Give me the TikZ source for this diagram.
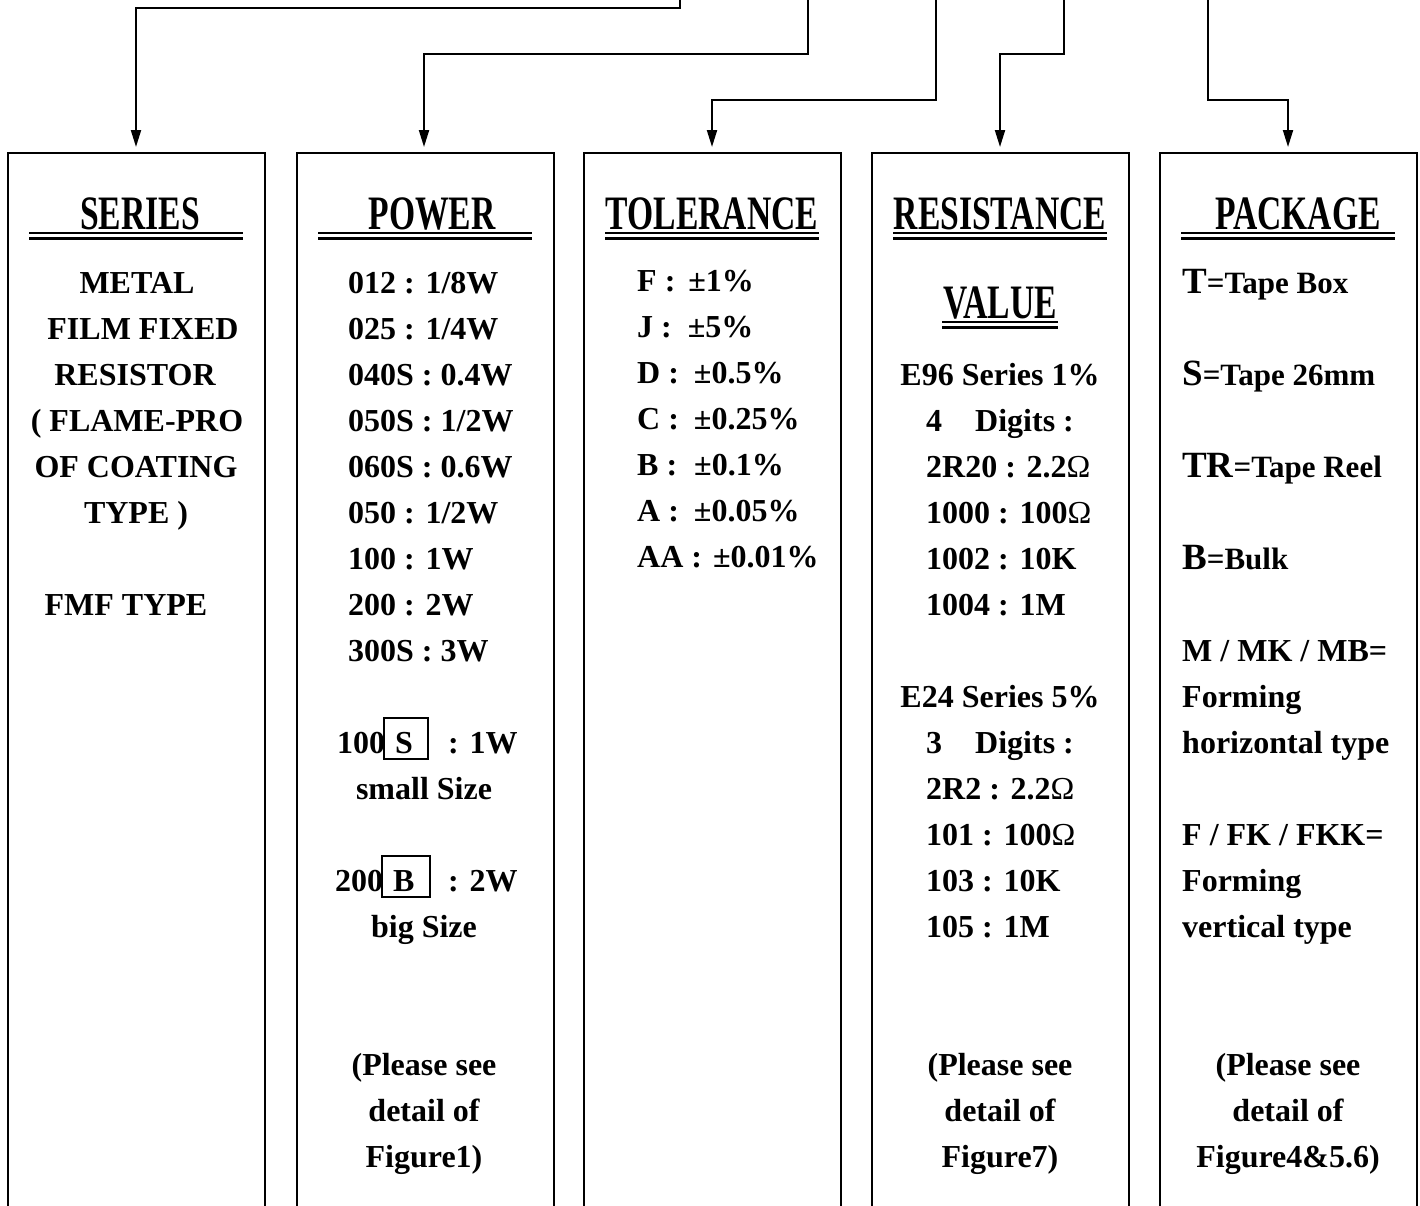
\documentclass[tikz,border=0pt]{standalone}
\usepackage{fontspec}
\setmainfont{Liberation Serif}
\usepackage{graphicx}
\usetikzlibrary{arrows.meta}
\newcommand{\hdrtext}[1]{\scalebox{0.7}[1]{\bfseries\fontsize{48}{48}\selectfont #1}}
\newcommand{\ohm}{{\mdseries Ω}}
\newcommand{\pkgbig}[1]{{\fontsize{37}{37}\selectfont #1}}
\begin{document}
\begin{tikzpicture}[x=1pt,y=-1pt,
  conn/.style={line width=2pt,-{Triangle[length=17pt,width=10pt]},shorten >=6pt},
  colbox/.style={line width=2pt},
  body/.style={font=\bfseries\fontsize{32}{32}\selectfont,inner sep=0pt},
  pkg/.style={font=\bfseries\fontsize{31}{31}\selectfont,inner sep=0pt},
  hdr/.style={inner sep=0pt,anchor=base},
  uline/.style={line width=2.8pt},
  lft/.style={body,anchor=base west},
  ctr/.style={body,anchor=base}]
\useasboundingbox (0,0) rectangle (1420,1205);
% column boxes (open at bottom)
\foreach \l in {8,297,584,872,1160}{
  \draw[colbox] (\l,1207) -- (\l,153) -- (\l+257,153) -- (\l+257,1207);
  \draw[uline] (\l+21,233) -- (\l+235,233);
  \draw[uline] (\l+21,238.5) -- (\l+235,238.5);
}
\coordinate (b1) at (136,153);
\coordinate (b2) at (424,153);
\coordinate (b3) at (712,153);
\coordinate (b4) at (1000,153);
\coordinate (b5) at (1288,153);
\coordinate (s1) at (680,-2);
\coordinate (s2) at (808,-2);
\coordinate (s3) at (936,-2);
\coordinate (s4) at (1064,-2);
\coordinate (s5) at (1208,-2);
\draw[conn] (s1) -- ++(0,10) -| (b1);
\draw[conn] (s2) -- ++(0,56) -| (b2);
\draw[conn] (s3) -- ++(0,102) -| (b3);
\draw[conn] (s4) -- ++(0,56) -| (b4);
\draw[conn] (s5) -- ++(0,102) -| (b5);
% headers
\node[hdr] (h1) at (140,229) {\hdrtext{SERIES}};
\node[hdr] (h2) at (432,229) {\hdrtext{POWER}};
\node[hdr] (h3) at (712,229) {\hdrtext{TOLERANCE}};
\node[hdr] (h4) at (1000,229) {\hdrtext{RESISTANCE}};
\node[hdr] (h5) at (1298,229) {\hdrtext{PACKAGE}};
\node[hdr] (h4b) at (1000,318) {\hdrtext{VALUE}};
\draw[uline] (942,322) -- (1058,322);
\draw[uline] (942,327.5) -- (1058,327.5);
% column 1
\node[ctr] (a0) at (137,{293+46*0}) {METAL};
\node[ctr] (a1) at (143,{293+46*1}) {FILM FIXED};
\node[ctr] (a2) at (135,{293+46*2}) {RESISTOR};
\node[ctr] (a3) at (137,{293+46*3}) {( FLAME-PRO};
\node[ctr] (a4) at (136,{293+46*4}) {OF COATING};
\node[ctr] (a5) at (136,{293+46*5}) {TYPE )};
\node[ctr] (a7) at (126,{293+46*7}) {FMF TYPE};
% column 2
\node[lft] (p0) at (348,{293+46*0}) {012 : 1/8W};
\node[lft] (p1) at (348,{293+46*1}) {025 : 1/4W};
\node[lft] (p2) at (348,{293+46*2}) {040S : 0.4W};
\node[lft] (p3) at (348,{293+46*3}) {050S : 1/2W};
\node[lft] (p4) at (348,{293+46*4}) {060S : 0.6W};
\node[lft] (p5) at (348,{293+46*5}) {050 : 1/2W};
\node[lft] (p6) at (348,{293+46*6}) {100 : 1W};
\node[lft] (p7) at (348,{293+46*7}) {200 : 2W};
\node[lft] (p8) at (348,{293+46*8}) {300S : 3W};
\node[lft] (p10a) at (337,{293+46*10}) {100};
\node[draw,line width=1.6pt,minimum width=44pt,minimum height=41pt,inner sep=0pt] (sbox) at (406,738.5) {};
\node[lft] (p10b) at (395,{293+46*10}) {S};
\node[lft] (p10c) at (448,{293+46*10}) {: 1W};
\node[ctr] (p11) at (424,{293+46*11}) {small Size};
\node[lft] (p13a) at (335,{293+46*13}) {200};
\node[draw,line width=1.6pt,minimum width=48pt,minimum height=41pt,inner sep=0pt] (bbox) at (406,876.5) {};
\node[lft] (p13b) at (393,{293+46*13}) {B};
\node[lft] (p13c) at (448,{293+46*13}) {: 2W};
\node[ctr] (p14) at (424,{293+46*14}) {big Size};
\node[ctr] (p17) at (424,{293+46*17}) {(Please see};
\node[ctr] (p18) at (424,{293+46*18}) {detail of};
\node[ctr] (p19) at (424,{293+46*19}) {Figure1)};
% column 3
\node[lft] (t0) at (637,{291+46*0}) {F :\hspace{5pt} ±1\%};
\node[lft] (t1) at (637,{291+46*1}) {J :\hspace{16pt}±5\%};
\node[lft] (t2) at (637,{291+46*2}) {D :\hspace{15pt}±0.5\%};
\node[lft] (t3) at (637,{291+46*3}) {C :\hspace{15pt}±0.25\%};
\node[lft] (t4) at (637,{291+46*4}) {B :\hspace{17pt}±0.1\%};
\node[lft] (t5) at (637,{291+46*5}) {A :\hspace{15pt}±0.05\%};
\node[lft] (t6) at (637,{291+46*6}) {AA :\hspace{11pt}±0.01\%};
% column 4
\node[ctr] (r2) at (1000,{293+46*2}) {E96 Series 1\%};
\node[lft] (r3) at (926,{293+46*3}) {4\hspace{33pt}Digits :};
\node[lft] (r4) at (926,{293+46*4}) {2R20 : 2.2\ohm};
\node[lft] (r5) at (926,{293+46*5}) {1000 : 100\ohm};
\node[lft] (r6) at (926,{293+46*6}) {1002 : 10K};
\node[lft] (r7) at (926,{293+46*7}) {1004 : 1M};
\node[ctr] (r9) at (1000,{293+46*9}) {E24 Series 5\%};
\node[lft] (r10) at (926,{293+46*10}) {3\hspace{33pt}Digits :};
\node[lft] (r11) at (926,{293+46*11}) {2R2 : 2.2\ohm};
\node[lft] (r12) at (926,{293+46*12}) {101 : 100\ohm};
\node[lft] (r13) at (926,{293+46*13}) {103 : 10K};
\node[lft] (r14) at (926,{293+46*14}) {105 : 1M};
\node[ctr] (r17) at (1000,{293+46*17}) {(Please see};
\node[ctr] (r18) at (1000,{293+46*18}) {detail of};
\node[ctr] (r19) at (1000,{293+46*19}) {Figure7)};
% column 5
\node[pkg,anchor=base west] (k0) at (1182,{293+46*0}) {\pkgbig{T}=Tape Box};
\node[pkg,anchor=base west] (k2) at (1182,{293+46*2}) {\pkgbig{S}=Tape 26mm};
\node[pkg,anchor=base west] (k4) at (1182,{293+46*4}) {\pkgbig{TR}=Tape Reel};
\node[pkg,anchor=base west] (k6) at (1182,{293+46*6}) {\pkgbig{B}=Bulk};
\node[lft] (k8) at (1182,{293+46*8}) {M / MK / MB=};
\node[lft] (k9) at (1182,{293+46*9}) {Forming};
\node[lft] (k10) at (1182,{293+46*10}) {horizontal type};
\node[lft] (k12) at (1182,{293+46*12}) {F / FK / FKK=};
\node[lft] (k13) at (1182,{293+46*13}) {Forming};
\node[lft] (k14) at (1182,{293+46*14}) {vertical type};
\node[ctr] (k17) at (1288,{293+46*17}) {(Please see};
\node[ctr] (k18) at (1288,{293+46*18}) {detail of};
\node[ctr] (k19) at (1288,{293+46*19}) {Figure4\&5.6)};
\end{tikzpicture}
\end{document}
